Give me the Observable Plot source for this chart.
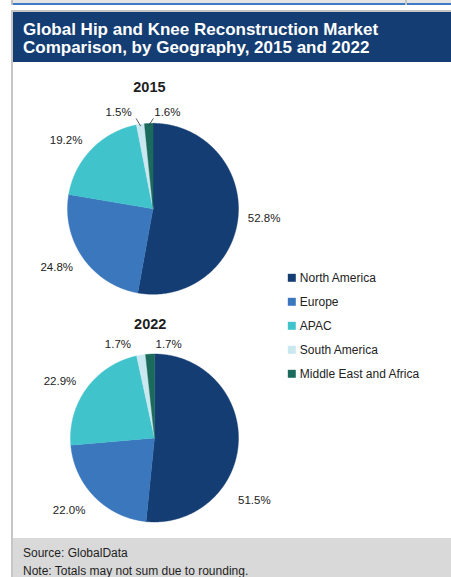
<!DOCTYPE html>
<html>
<head>
<meta charset="utf-8">
<script src="https://cdn.jsdelivr.net/npm/d3@7"></script>
<script src="https://cdn.jsdelivr.net/npm/@observablehq/plot@0.6"></script>
<style>
  html, body { margin: 0; padding: 0; }
  body { width: 451px; height: 577px; overflow: hidden; background: #fff; position: relative;
         font-family: "Liberation Sans", Arial, sans-serif; }
  .abs { position: absolute; }
  #topband { left: 11px; top: 0; width: 440px; height: 5px;
             background: linear-gradient(to bottom, #e4e4e4 0 3px, #3b7bc6 3px 5px); }
  #topleft { left: 11px; top: 0; width: 2px; height: 5px; background: #bdbdbd; }
  #topdiv { left: 405px; top: 0; width: 2px; height: 5px; background: #c4c4c4; }
  #panel { left: 11px; top: 10px; width: 440px; height: 567px; box-sizing: border-box;
           border-left: 2px solid #c6c6c6; border-top: 2px solid #c6c6c6; }
  #title { left: 13px; top: 12px; width: 438px; height: 50px; box-sizing: border-box;
           background: #143d73; color: #fff; font-weight: bold; font-size: 17px;
           line-height: 17.5px; padding: 9px 0 0 10px; white-space: nowrap; }
  #chart { left: 13px; top: 62px; width: 438px; height: 476px; }
  #footer { left: 13px; top: 538px; width: 438px; height: 39px; background: #d9d9d9; }
  .foot { position: absolute; left: 10px; font-size: 12px; line-height: 14px; color: #1e1e1e; white-space: nowrap; }
</style>
</head>
<body>
<div id="topband" class="abs"></div>
<div id="topleft" class="abs"></div>
<div id="topdiv" class="abs"></div>
<div id="panel" class="abs"></div>
<div id="title" class="abs">Global Hip and Knee Reconstruction Market<br>Comparison, by Geography, 2015 and 2022</div>
<div id="chart" class="abs"></div>
<div id="footer" class="abs">
  <div class="foot" style="top:7.5px">Source: GlobalData</div>
  <div class="foot" style="top:26px">Note: Totals may not sum due to rounding.</div>
</div>
<script>
// ---------- data ----------
const regions = ["North America", "Europe", "APAC", "South America", "Middle East and Africa"];
const years = ["2015", "2022"];
const share2015 = [52.8, 24.8, 19.2, 1.5, 1.6];
const share2022 = [51.5, 22.0, 22.9, 1.7, 1.7];

// ---------- styles / layout ----------
const colors = ["#143d73", "#3a77bd", "#40c3cb", "#c9e8f0", "#1b6b5c"];
const W = 438, H = 476;
const pieLayout = {
  "2015": {cx: 139.5, cy: 146.3, r: 85.5, titleDx: -3.6, titleY: 24.7},
  "2022": {cx: 141.0, cy: 375.5, r: 84.0, titleDx: -4.3, titleY: 262.3}
};
// label nudges (px) relative to default outside-end placement
const labelNudge = {
  "2015|Europe": [-5, 0], "2015|APAC": [-7, 3],
  "2015|South America": [-18, 5], "2015|Middle East and Africa": [20, 6],
  "2022|North America": [-10, 57], "2022|Europe": [-7, 1], "2022|APAC": [-6, 3],
  "2022|South America": [-19, 6], "2022|Middle East and Africa": [20, 7]
};
const leaderLines = new Set(["2015|South America", "2015|Middle East and Africa"]);
const legend = {x: 278.3, textX: 286.3, y0: 215.3, step: 24};

const seriesByYear = {"2015": share2015, "2022": share2022};

const slicePts = [], labels = [], leaders = [], titles = [];
for (const year of years) {
  const L = pieLayout[year];
  const arcs = d3.pie().sort(null).value(d => d)(seriesByYear[year]);
  arcs.forEach((a, i) => {
    const key = year + "|" + regions[i];
    slicePts.push({key, region: regions[i], x: L.cx, y: L.cy});
    const n = Math.max(2, Math.ceil((a.endAngle - a.startAngle) / (Math.PI / 360)));
    for (let k = 0; k <= n; k++) {
      const t = a.startAngle + (a.endAngle - a.startAngle) * k / n;
      slicePts.push({key, region: regions[i], x: L.cx + L.r * Math.sin(t), y: L.cy - L.r * Math.cos(t)});
    }
    const mid = (a.startAngle + a.endAngle) / 2;
    const [ndx, ndy] = labelNudge[key] || [0, 0];
    const lx = L.cx + (L.r + 26) * Math.sin(mid) + ndx;
    const ly = L.cy - (L.r + 17) * Math.cos(mid) + ndy;
    labels.push({x: lx, y: ly, text: a.data.toFixed(1) + "%"});
    if (leaderLines.has(key)) {
      const ax = L.cx + (L.r - 2) * Math.sin(mid), ay = L.cy - (L.r - 2) * Math.cos(mid);
      const side = lx < ax ? 1 : -1;
      leaders.push({x1: ax, y1: ay, x2: lx + side * (side > 0 ? 17.5 : 14), y2: ly + 6});
    }
  });
  titles.push({x: L.cx + L.titleDx, y: L.titleY, text: year});
}

const legendRows = regions.map((r, i) => ({region: r, x: legend.x, tx: legend.textX, y: legend.y0 + i * legend.step}));

const chart = Plot.plot({
  width: W, height: H, margin: 0,
  x: {domain: [0, W], range: [0, W], axis: null},
  y: {domain: [0, H], range: [0, H], axis: null},
  color: {domain: regions, range: colors},
  style: {fontFamily: '"Liberation Sans", Arial, sans-serif', background: "transparent", overflow: "visible"},
  marks: [
    Plot.line(slicePts, {x: "x", y: "y", z: "key", fill: "region", stroke: "region", strokeWidth: 0.4, curve: "linear-closed"}),
    Plot.link(leaders, {x1: "x1", y1: "y1", x2: "x2", y2: "y2", stroke: "#333", strokeWidth: 0.8}),
    Plot.text(labels, {x: "x", y: "y", text: "text", fontSize: 11.5, fill: "#222"}),
    Plot.text(titles, {x: "x", y: "y", text: "text", fontSize: 14.5, fontWeight: "bold", fill: "#1e1e1e"}),
    Plot.dot(legendRows, {x: "x", y: "y", fill: "region", symbol: "square", r: 4.5, stroke: null}),
    Plot.text(legendRows, {x: "tx", y: "y", text: "region", textAnchor: "start", fontSize: 12, fill: "#222"})
  ]
});
document.getElementById("chart").appendChild(chart);
</script>
</body>
</html>
